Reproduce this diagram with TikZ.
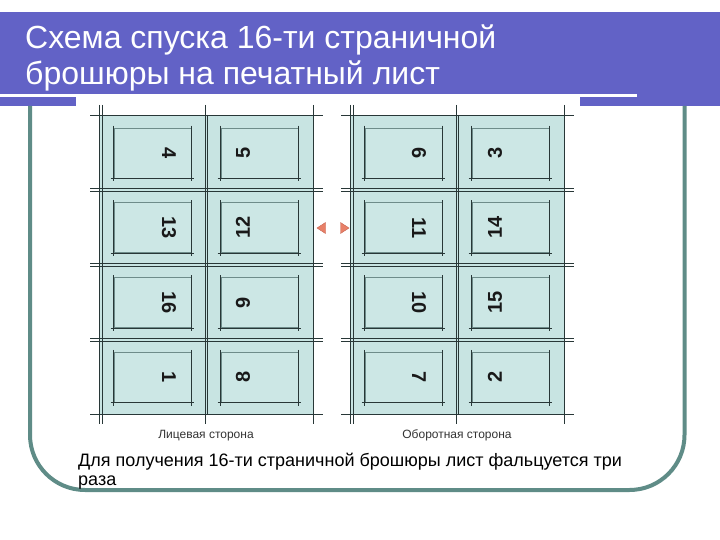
\documentclass[tikz,border=0pt]{standalone}
\usepackage{fontspec}
\setmainfont{Liberation Sans}
\definecolor{barblue}{RGB}{98,98,198}
\definecolor{frameteal}{RGB}{95,140,135}
\definecolor{sheetfill}{RGB}{200,228,226}
\definecolor{pagefill}{RGB}{204,231,229}
\definecolor{pageedge}{RGB}{110,140,138}
\definecolor{darkline}{RGB}{40,55,55}
\definecolor{arrowfill}{RGB}{232,128,104}
\definecolor{arrowedge}{RGB}{200,100,80}
\tikzset{
  pagebox/.style={draw=pageedge, fill=pagefill, line width=0.7pt, minimum width=77pt, minimum height=50pt, inner sep=0pt},
  pagenum/.style={font=\fontsize{20}{22}\bfseries\selectfont, text=black!90, inner sep=0pt},
  trimline/.style={draw=darkline, line width=0.45pt},
  sheetline/.style={draw=darkline, line width=0.8pt},
  thinline/.style={draw=darkline, line width=0.45pt},
  caption/.style={font=\fontsize{12}{14}\selectfont, text=black!80, inner sep=0pt},
  tri/.style={fill=arrowfill, draw=arrowedge, line width=0.4pt},
}
\begin{document}
\begin{tikzpicture}[x=1pt,y=-1pt]
\useasboundingbox (0,0) rectangle (720,540);
\fill[white] (0,0) rectangle (720,540);
% title bar
\fill[barblue] (0,12) rectangle (720,106);
\fill[white] (0,94.5) rectangle (637,97.5);
\fill[white] (76,97.5) rectangle (580,110);
\node[anchor=base west, text=white, font=\fontsize{32}{38}\selectfont, inner sep=0pt] (t1) at (25,49) {Схема спуска 16-ти страничной};
\node[anchor=base west, text=white, font=\fontsize{32}{38}\selectfont, inner sep=0pt] (t2) at (25,85) {брошюры на печатный лист};
% frame
\draw[frameteal, line width=4pt, rounded corners=55pt] (30,106) -- (30,490) -- (684.5,490) -- (684.5,106);
% sheets
\foreach \L in {99,350} {
  \pgfmathsetmacro\R{\L+214}
  \pgfmathsetmacro\M{\L+107}
  \fill[sheetfill] (\L,115) rectangle (\R,414);
  % row lines (double) with crop extensions
  \foreach \k in {1,2,3} {
    \pgfmathsetmacro\yy{115+74.75*\k}
    \draw[thinline] (\L-9,\yy-1.5) -- (\R+10,\yy-1.5);
    \draw[thinline] (\L-9,\yy+1.5) -- (\R+10,\yy+1.5);
  }
  % top and bottom crop extensions
  \draw[thinline] (\L-9,115) -- (\R+10,115);
  \draw[thinline] (\L-9,414) -- (\R+10,414);
  % vertical lines with crop extensions
  \draw[thinline] (\L,105) -- (\L,424);
  \draw[thinline] (\L+3.5,105) -- (\L+3.5,424);
  \draw[thinline] (\M-1,105) -- (\M-1,424);
  \draw[thinline] (\M+1,115) -- (\M+1,414);
  \draw[thinline] (\R,105) -- (\R,424);
  \draw[sheetline] (\L,115) rectangle (\R,414);
}
% pages, left sheet (face side)
\foreach \r/\a/\b in {0/4/5,1/13/12,2/16/9,3/1/8} {
  \pgfmathsetmacro\yc{115+74.75*\r+38}
  \node[pagebox] (p\a) at (152.5,\yc) {};
  \node[pagebox] (p\b) at (259.5,\yc) {};
  \node[pagenum, rotate=-90] (n\a) at (169,\yc) {\a};
  \node[pagenum, rotate=90] (n\b) at (243,\yc) {\b};
}
% pages, right sheet (back side)
\foreach \r/\a/\b in {0/6/3,1/11/14,2/10/15,3/7/2} {
  \pgfmathsetmacro\yc{115+74.75*\r+38}
  \node[pagebox] (p\a) at (403.5,\yc) {};
  \node[pagebox] (p\b) at (510.5,\yc) {};
  \node[pagenum, rotate=-90] (n\a) at (419,\yc) {\a};
  \node[pagenum, rotate=90] (n\b) at (495,\yc) {\b};
}
% trim marks at page boxes
\foreach \p in {1,2,...,16} {
  \draw[trimline] ([xshift=-3pt]p\p.south west) -- ([xshift=3pt]p\p.south east);
  \draw[trimline] ([yshift=2pt]p\p.north west) -- ([yshift=-3pt]p\p.south west);
  \draw[trimline] ([yshift=2pt]p\p.north east) -- ([yshift=-3pt]p\p.south east);
}
% arrows between sheets
\coordinate (la) at (317,228);
\coordinate (ra) at (349,228);
\draw[tri] (la) -- ++(8.5,-5.5) -- ++(0,11) -- cycle;
\draw[tri] (ra) -- ++(-8.5,-5.5) -- ++(0,11) -- cycle;
% captions
\node[caption, anchor=base] (c1) at (206,438) {Лицевая сторона};
\node[caption, anchor=base] (c2) at (457,438) {Оборотная сторона};
% bottom text
\node[anchor=base west, inner sep=0pt, font=\fontsize{18}{20}\selectfont] (b1) at (78,466) {Для получения 16-ти страничной брошюры лист фальцуется три};
\node[anchor=base west, inner sep=0pt, font=\fontsize{18}{20}\selectfont] (b2) at (78,485) {раза};
\end{tikzpicture}
\end{document}
